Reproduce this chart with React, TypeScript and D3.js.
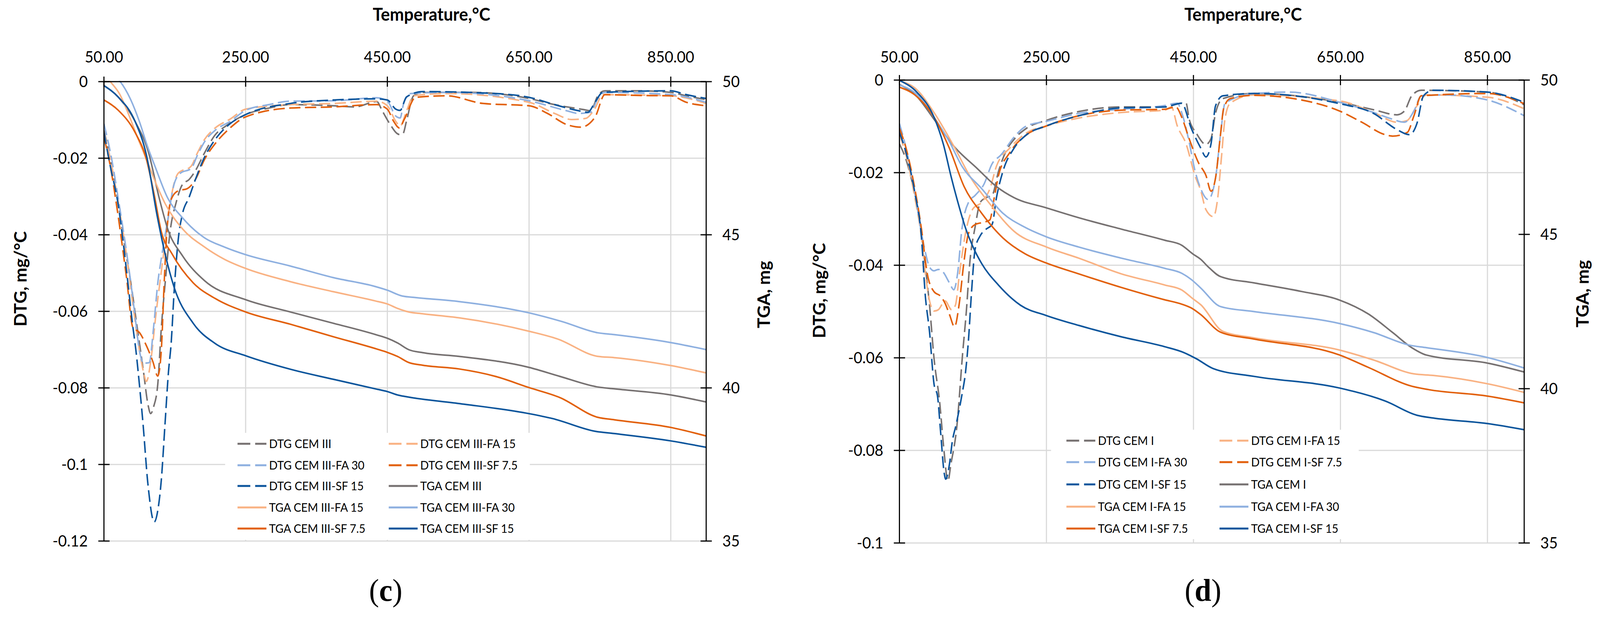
import * as d3 from "d3"

// ---- axis ticks ----
const TEMP_TICKS = [50, 250, 450, 650, 850]
const TGA_TICKS = [35, 40, 45, 50]
const DTG_TICKS_C = [0, -0.02, -0.04, -0.06, -0.08, -0.1, -0.12]
const DTG_TICKS_D = [0, -0.02, -0.04, -0.06, -0.08, -0.1]

// series suffixes, in legend order
const MIXES = ["", "-FA 15", "-FA 30", "-SF 7.5", "-SF 15"]
const COLORS = ["#767171", "#F9B283", "#8EB0E0", "#E2600C", "#0C559C"]

// ---- panel (c) CEM III : DTG [T, mg/°C] ----
const dtgC_cem = [[50,-0.0127],[61,-0.0221],[70,-0.0315],[79,-0.0426],[88,-0.0526],[97,-0.0643],[106,-0.076],[112,-0.0842],[116,-0.0867],[120,-0.085],[126,-0.079],[131,-0.0643],[137,-0.0514],[143,-0.0397],[152,-0.0315],[161,-0.0268],[170,-0.0256],[179,-0.0233],[192,-0.0186],[207,-0.0139],[222,-0.0116],[250,-0.0086],[283,-0.0069],[313,-0.006],[374,-0.0063],[404,-0.0066],[435,-0.0052],[443,-0.0077],[453,-0.0109],[467,-0.0138],[472,-0.0136],[477,-0.0103],[487,-0.0037],[500,-0.0028],[568,-0.0028],[650,-0.0044],[686,-0.006],[727,-0.0073],[737,-0.0076],[747,-0.0037],[757,-0.0024],[804,-0.0024],[850,-0.0028],[872,-0.0037],[900,-0.0047]]
const dtgC_fa15 = [[50,-0.0133],[61,-0.0221],[70,-0.0315],[82,-0.0455],[91,-0.0584],[100,-0.0701],[106,-0.076],[110,-0.0783],[116,-0.0731],[123,-0.0614],[131,-0.0496],[138,-0.0397],[146,-0.0291],[155,-0.0239],[173,-0.0221],[182,-0.0186],[192,-0.0151],[207,-0.0121],[228,-0.0098],[250,-0.0072],[313,-0.006],[374,-0.0057],[435,-0.0051],[450,-0.0063],[462,-0.0104],[468,-0.0116],[477,-0.0077],[487,-0.0037],[534,-0.0031],[650,-0.0054],[686,-0.0083],[710,-0.0099],[730,-0.0096],[743,-0.007],[754,-0.0034],[850,-0.0037],[900,-0.0057]]
const dtgC_fa30 = [[50,-0.011],[61,-0.0203],[70,-0.0303],[79,-0.0409],[88,-0.0526],[94,-0.0614],[100,-0.0701],[106,-0.0737],[110,-0.0735],[114,-0.0734],[120,-0.0643],[126,-0.0526],[132,-0.045],[140,-0.0362],[149,-0.0268],[158,-0.0239],[173,-0.0227],[182,-0.0192],[192,-0.0157],[207,-0.0127],[228,-0.0104],[250,-0.0075],[283,-0.006],[313,-0.0051],[374,-0.005],[435,-0.0042],[450,-0.0051],[462,-0.009],[468,-0.0095],[473,-0.0057],[483,-0.0031],[534,-0.0028],[650,-0.005],[703,-0.0076],[720,-0.0083],[737,-0.008],[747,-0.0044],[757,-0.0028],[850,-0.0034],[900,-0.0054]]
const dtgC_sf75 = [[50,-0.0145],[59,-0.0221],[70,-0.035],[82,-0.0514],[91,-0.0643],[100,-0.0655],[110,-0.069],[119,-0.0731],[126,-0.0769],[131,-0.0701],[135,-0.0526],[140,-0.0362],[146,-0.0303],[155,-0.0285],[167,-0.028],[179,-0.0256],[192,-0.0203],[207,-0.0162],[228,-0.0121],[250,-0.0092],[313,-0.0069],[374,-0.0066],[435,-0.006],[450,-0.0072],[459,-0.0104],[467,-0.0121],[474,-0.0098],[490,-0.0041],[534,-0.0037],[585,-0.0057],[650,-0.0063],[676,-0.0083],[703,-0.0112],[723,-0.0119],[743,-0.0093],[757,-0.0034],[804,-0.0036],[850,-0.0037],[872,-0.0054],[900,-0.0063]]
const dtgC_sf15 = [[50,-0.0133],[59,-0.0221],[70,-0.032],[82,-0.0496],[91,-0.0643],[95,-0.07],[100,-0.079],[105,-0.089],[112,-0.105],[121,-0.115],[126,-0.112],[131,-0.104],[136,-0.09],[141,-0.076],[145,-0.068],[149,-0.055],[155,-0.041],[161,-0.0344],[170,-0.0303],[179,-0.0256],[192,-0.0197],[207,-0.0151],[228,-0.011],[250,-0.0086],[313,-0.0057],[374,-0.0048],[435,-0.0045],[450,-0.0048],[462,-0.0072],[468,-0.0075],[477,-0.004],[500,-0.0026],[602,-0.0031],[650,-0.0041],[686,-0.006],[720,-0.0076],[733,-0.008],[743,-0.0054],[754,-0.0028],[850,-0.0024],[872,-0.0034],[900,-0.0044]]

// ---- panel (c) CEM III : TGA [T, mg] ----
const tgaC_cem = [[50,49.87],[70,49.5],[94,48.7],[113,47.68],[128,46.2],[140,45.19],[161,44.31],[192,43.5],[250,42.88],[313,42.48],[374,42.11],[435,41.73],[450,41.62],[465,41.46],[480,41.25],[500,41.15],[551,41.03],[650,40.67],[693,40.38],[747,40.03],[770,39.97],[850,39.77],[900,39.54]]
const tgaC_fa15 = [[50,50.25],[59,50],[72,49.6],[85,48.92],[97,48.2],[110,47.46],[123,46.7],[137,45.99],[161,45.19],[192,44.6],[220,44.2],[250,43.9],[313,43.47],[374,43.14],[433,42.84],[450,42.74],[465,42.59],[480,42.48],[500,42.42],[551,42.29],[650,41.85],[690,41.6],[747,41.03],[770,40.99],[850,40.73],[900,40.49]]
const tgaC_fa30 = [[50,50.45],[62,50.25],[73,50],[87,49.45],[100,48.7],[112,47.85],[122,47.24],[140,46.2],[161,45.55],[192,44.9],[220,44.6],[250,44.35],[313,43.98],[374,43.6],[433,43.31],[450,43.19],[471,43.0],[490,42.95],[551,42.82],[650,42.45],[696,42.17],[747,41.8],[770,41.74],[850,41.48],[900,41.25]]
const tgaC_sf75 = [[50,49.4],[70,49.07],[94,48.34],[110,47.46],[121,46.3],[131,45.1],[146,44.38],[176,43.43],[207,42.92],[250,42.48],[313,42.08],[374,41.67],[435,41.27],[450,41.16],[465,41.02],[480,40.83],[500,40.74],[551,40.62],[602,40.38],[650,40.01],[693,39.69],[747,39.04],[770,38.96],[850,38.71],[900,38.43]]
const tgaC_sf15 = [[50,49.87],[70,49.5],[94,48.7],[110,47.6],[125,45.63],[137,44.31],[149,43.29],[176,42.11],[207,41.45],[250,41.05],[313,40.61],[374,40.28],[433,39.97],[450,39.88],[466,39.76],[480,39.7],[551,39.49],[650,39.16],[683,39.0],[744,38.58],[770,38.51],[850,38.27],[900,38.06]]

// ---- panel (d) CEM I : DTG ----
const dtgD_cem = [[50,-0.0138],[59,-0.0172],[68,-0.0225],[77,-0.0293],[85,-0.04],[91,-0.0487],[97,-0.06],[105,-0.07],[110,-0.079],[116,-0.0866],[120,-0.083],[128,-0.075],[136,-0.059],[141,-0.05],[146,-0.039],[153,-0.0317],[160,-0.0264],[168,-0.0254],[176,-0.0249],[185,-0.0196],[194,-0.0157],[206,-0.0128],[223,-0.0104],[250,-0.0087],[294,-0.0068],[352,-0.0058],[411,-0.0058],[434,-0.005],[440,-0.005],[444,-0.0083],[454,-0.0115],[467,-0.0139],[474,-0.0126],[480,-0.0072],[490,-0.004],[532,-0.0029],[649,-0.0048],[695,-0.0064],[727,-0.0075],[737,-0.0067],[747,-0.0034],[760,-0.0022],[850,-0.0026],[900,-0.0053]]
const dtgD_fa15 = [[50,-0.0118],[59,-0.0162],[71,-0.0254],[80,-0.0341],[85,-0.0414],[91,-0.0477],[97,-0.0499],[103,-0.0496],[112,-0.0477],[121,-0.0496],[126,-0.0487],[132,-0.0414],[141,-0.0322],[150,-0.0278],[162,-0.0264],[173,-0.0235],[182,-0.0186],[200,-0.0147],[223,-0.0114],[250,-0.0099],[294,-0.0082],[352,-0.007],[411,-0.0065],[420,-0.0058],[428,-0.0099],[440,-0.0138],[452,-0.0206],[460,-0.0239],[467,-0.028],[477,-0.0295],[483,-0.0255],[488,-0.0169],[493,-0.0083],[500,-0.005],[532,-0.0032],[649,-0.0045],[695,-0.007],[727,-0.0091],[740,-0.0088],[754,-0.0056],[767,-0.0032],[850,-0.0037],[900,-0.0062]]
const dtgD_fa30 = [[50,-0.0094],[59,-0.0147],[71,-0.0244],[80,-0.0331],[85,-0.037],[91,-0.0404],[97,-0.0412],[103,-0.0409],[109,-0.0414],[118,-0.0438],[124,-0.0453],[129,-0.0419],[135,-0.0322],[144,-0.0264],[153,-0.0249],[165,-0.0225],[176,-0.0181],[188,-0.0162],[206,-0.0123],[223,-0.0099],[250,-0.0089],[294,-0.0072],[352,-0.0063],[411,-0.0055],[428,-0.005],[435,-0.0075],[443,-0.0125],[452,-0.0195],[460,-0.0235],[470,-0.0258],[480,-0.0212],[487,-0.0115],[493,-0.005],[532,-0.0029],[581,-0.0026],[649,-0.0048],[695,-0.007],[718,-0.0083],[737,-0.0091],[750,-0.0067],[760,-0.0034],[792,-0.0032],[850,-0.0043],[900,-0.0077]]
const dtgD_sf75 = [[50,-0.0104],[59,-0.0147],[71,-0.0235],[80,-0.0322],[88,-0.0419],[97,-0.0457],[106,-0.0467],[112,-0.0482],[118,-0.0506],[125,-0.0533],[131,-0.0487],[138,-0.039],[144,-0.0331],[153,-0.0312],[165,-0.0307],[173,-0.0302],[179,-0.0254],[185,-0.0205],[200,-0.0157],[223,-0.0118],[250,-0.0099],[294,-0.0077],[352,-0.0065],[411,-0.0063],[426,-0.0058],[434,-0.008],[444,-0.0126],[457,-0.0179],[467,-0.0206],[474,-0.024],[480,-0.0212],[487,-0.0115],[491,-0.0062],[500,-0.004],[532,-0.0033],[597,-0.0043],[649,-0.0067],[679,-0.0091],[711,-0.0118],[721,-0.0121],[741,-0.0113],[750,-0.0077],[760,-0.0034],[850,-0.0029],[900,-0.0051]]
const dtgD_sf15 = [[50,-0.0113],[59,-0.0157],[71,-0.0244],[80,-0.0341],[85,-0.0462],[91,-0.0545],[97,-0.0656],[102,-0.0685],[106,-0.076],[111,-0.085],[113,-0.0862],[118,-0.083],[122,-0.078],[127,-0.0745],[135,-0.068],[140,-0.063],[144,-0.056],[148,-0.046],[153,-0.0365],[160,-0.0336],[168,-0.0322],[176,-0.0312],[182,-0.0254],[191,-0.0196],[206,-0.0147],[223,-0.0118],[250,-0.0099],[294,-0.0077],[352,-0.006],[411,-0.0058],[434,-0.005],[447,-0.0104],[460,-0.0147],[467,-0.0166],[474,-0.0137],[480,-0.0056],[490,-0.0034],[532,-0.0029],[649,-0.0051],[695,-0.0072],[727,-0.0107],[744,-0.0118],[754,-0.0094],[763,-0.0034],[776,-0.0022],[850,-0.0026],[900,-0.0048]]

// ---- panel (d) CEM I : TGA ----
const tgaD_cem = [[50,49.86],[74,49.46],[97,48.73],[124,47.86],[156,47.13],[182,46.55],[206,46.19],[250,45.86],[294,45.54],[352,45.17],[411,44.81],[434,44.65],[449,44.37],[460,44.19],[470,43.95],[487,43.63],[532,43.43],[597,43.15],[649,42.87],[688,42.42],[721,41.82],[747,41.33],[767,41.09],[850,40.83],[900,40.54]]
const tgaD_fa15 = [[50,49.98],[74,49.68],[97,48.95],[124,47.86],[147,46.84],[176,45.9],[206,45.1],[250,44.59],[294,44.23],[352,43.72],[411,43.36],[434,43.2],[449,42.92],[460,42.72],[490,41.86],[532,41.65],[649,41.25],[695,40.93],[750,40.48],[776,40.43],[850,40.16],[900,39.88]]
const tgaD_fa30 = [[50,49.84],[74,49.53],[97,48.8],[118,48.0],[135,47.21],[162,46.48],[191,45.68],[220,45.24],[250,44.92],[294,44.59],[352,44.23],[411,43.9],[434,43.74],[449,43.5],[460,43.26],[487,42.66],[532,42.5],[649,42.11],[695,41.82],[744,41.41],[767,41.33],[850,41.01],[900,40.67]]
const tgaD_sf75 = [[50,49.77],[74,49.46],[97,48.8],[118,47.79],[138,46.55],[162,45.68],[191,44.88],[221,44.37],[250,44.07],[294,43.72],[352,43.28],[411,42.88],[434,42.74],[449,42.59],[460,42.4],[487,41.83],[532,41.61],[649,41.09],[688,40.69],[747,40.08],[770,39.97],[850,39.76],[900,39.54]]
const tgaD_sf15 = [[50,49.99],[74,49.6],[97,48.8],[110,47.9],[120,46.9],[130,46.0],[140,45.2],[150,44.6],[162,44.05],[185,43.35],[215,42.7],[250,42.37],[294,42.05],[352,41.68],[411,41.36],[437,41.17],[454,40.97],[477,40.65],[532,40.4],[649,40.02],[711,39.6],[754,39.14],[776,39.05],[850,38.87],[900,38.67]]

const PANELS = [
  {
    cem: "CEM III", tag: "c", dtgTicks: DTG_TICKS_C,
    dtg: [dtgC_cem, dtgC_fa15, dtgC_fa30, dtgC_sf75, dtgC_sf15],
    tga: [tgaC_cem, tgaC_fa15, tgaC_fa30, tgaC_sf75, tgaC_sf15],
    box: { x0: 277, x1: 1882, y0: 209, y1: 1385 },
    titleX: 1150, leftTitle: [71, 714], rightTitle: [2052, 754], tagX: 1028,
    legend: { x: 600, y: 1108, w: 812, h: 274, cols: [633, 1036], rows: [1136, 1191, 1244, 1299, 1353] },
  },
  {
    cem: "CEM I", tag: "d", dtgTicks: DTG_TICKS_D,
    dtg: [dtgD_cem, dtgD_fa15, dtgD_fa30, dtgD_sf75, dtgD_sf15],
    tga: [tgaD_cem, tgaD_fa15, tgaD_fa30, tgaD_sf75, tgaD_sf15],
    box: { x0: 2397, x1: 4062, y0: 205, y1: 1390 },
    titleX: 3313, leftTitle: [2200, 744], rightTitle: [4234, 752], tagX: 3206,
    legend: { x: 2801, y: 1100, w: 820, h: 280, cols: [2842, 3250], rows: [1128, 1183, 1240, 1297, 1353] },
  },
]

const FONT = "Lato, 'Open Sans', sans-serif"
const GRID = "#D9D9D9"

function Panel({ p }) {
  const { x0, x1, y0, y1 } = p.box
  const x = d3.scaleLinear().domain([50, 900]).range([x0, x1])
  const yDtg = d3.scaleLinear().domain([0, d3.min(p.dtgTicks)]).range([y0, y1])
  const yTga = d3.scaleLinear().domain([50, 35]).range([y0, y1])
  const lineDtg = d3.line().x((d) => x(d[0])).y((d) => yDtg(d[1])).curve(d3.curveMonotoneX)
  const lineTga = d3.line().x((d) => x(d[0])).y((d) => yTga(d[1])).curve(d3.curveMonotoneX)
  const clipId = `clip-${p.tag}`

  // legend entries: DTG series then TGA series, filled row by row in two columns
  const entries = [
    ...MIXES.map((m, i) => ({ label: `DTG ${p.cem}${m}`, color: COLORS[i], dashed: true })),
    ...MIXES.map((m, i) => ({ label: `TGA ${p.cem}${m}`, color: COLORS[i], dashed: false })),
  ]

  return (
    <g>
      <defs>
        <clipPath id={clipId}>
          <rect x={x0} y={y0 - 2} width={x1 - x0} height={y1 - y0 + 4} />
        </clipPath>
      </defs>

      {/* grid */}
      {p.dtgTicks.filter((t) => t !== 0).map((t) => (
        <line key={"h" + t} x1={x0} x2={x1} y1={yDtg(t)} y2={yDtg(t)} stroke={GRID} strokeWidth={3} />
      ))}
      {TEMP_TICKS.filter((t) => t !== 50).map((t) => (
        <line key={"v" + t} x1={x(t)} x2={x(t)} y1={y0} y2={y1} stroke={GRID} strokeWidth={3} />
      ))}

      {/* curves */}
      <g clipPath={`url(#${clipId})`} fill="none" strokeLinejoin="round">
        {p.dtg.map((s, i) => (
          <path key={"d" + i} d={lineDtg(s)} stroke={COLORS[i]} strokeWidth={4} strokeDasharray="30,12" />
        ))}
        {p.tga.map((s, i) => (
          <path key={"t" + i} d={lineTga(s)} stroke={COLORS[i]} strokeWidth={4} />
        ))}
      </g>

      {/* axes */}
      <line x1={x0} x2={x1} y1={y0} y2={y0} stroke="#000" strokeWidth={3} />
      <line x1={x0} x2={x0} y1={y0} y2={y1} stroke="#000" strokeWidth={3} />
      <line x1={x1} x2={x1} y1={y0} y2={y1} stroke="#000" strokeWidth={3} />
      {TEMP_TICKS.map((t) => (
        <g key={"xt" + t}>
          <line x1={x(t)} x2={x(t)} y1={y0 - 13} y2={y0 + 13} stroke="#000" strokeWidth={3} />
          <text x={x(t)} y={160} textAnchor="middle" fontFamily={FONT} fontSize={40}>{t.toFixed(2)}</text>
        </g>
      ))}
      {p.dtgTicks.map((t) => (
        <g key={"yl" + t}>
          <line x1={x0 - 15} x2={x0 + 15} y1={yDtg(t)} y2={yDtg(t)} stroke="#000" strokeWidth={3} />
          <text x={x0 - 43} y={yDtg(t)} dy="0.36em" textAnchor="end" fontFamily={FONT} fontSize={40}>{String(t)}</text>
        </g>
      ))}
      {TGA_TICKS.map((t) => (
        <g key={"yr" + t}>
          <line x1={x1 - 15} x2={x1 + 15} y1={yTga(t)} y2={yTga(t)} stroke="#000" strokeWidth={3} />
          <text x={x1 + 43} y={yTga(t)} dy="0.36em" textAnchor="start" fontFamily={FONT} fontSize={40}>{String(t)}</text>
        </g>
      ))}

      {/* titles */}
      <text x={p.titleX} y={53} textAnchor="middle" fontFamily={FONT} fontWeight="bold" fontSize={45}>Temperature,°C</text>
      <text transform={`translate(${p.leftTitle[0]},${p.leftTitle[1]}) rotate(-90)`} textAnchor="middle" fontFamily={FONT} fontWeight="bold" fontSize={45}>DTG, mg/°C</text>
      <text transform={`translate(${p.rightTitle[0]},${p.rightTitle[1]}) rotate(-90)`} textAnchor="middle" fontFamily={FONT} fontWeight="bold" fontSize={45}>TGA, mg</text>

      {/* legend */}
      <rect x={p.legend.x} y={p.legend.y} width={p.legend.w} height={p.legend.h} fill="#fff" />
      {entries.map((e, i) => {
        const cx = p.legend.cols[i % 2]
        const cy = p.legend.rows[Math.floor(i / 2)]
        return (
          <g key={"lg" + i}>
            <line x1={cx} x2={cx + 77} y1={cy} y2={cy} stroke={e.color} strokeWidth={5} strokeDasharray={e.dashed ? "34,13" : null} />
            <text x={cx + 84} y={cy} dy="0.36em" fontFamily={FONT} fontSize={30}>{e.label}</text>
          </g>
        )
      })}

      {/* panel tag */}
      <text x={p.tagX} y={1538} textAnchor="middle" fontFamily="'Liberation Serif', 'Times New Roman', serif" fontSize={80}>
        (<tspan fontWeight="bold">{p.tag}</tspan>)
      </text>
    </g>
  )
}

export default function App() {
  // the drawing is laid out in a 4264×1582 frame and fitted to the viewport
  return (
    <svg
      viewBox="0 0 4264 1582"
      preserveAspectRatio="none"
      style={{ position: "fixed", left: 0, top: 0, width: "100vw", height: "100vh", display: "block", background: "#fff" }}
    >
      <rect width={4264} height={1582} fill="#fff" />
      {PANELS.map((p) => (
        <Panel key={p.tag} p={p} />
      ))}
    </svg>
  )
}
